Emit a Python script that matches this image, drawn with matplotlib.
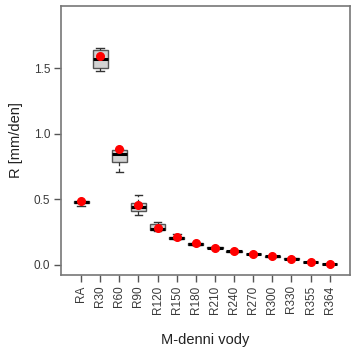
import numpy as np
import matplotlib
matplotlib.use("Agg")
import matplotlib.pyplot as plt

plt.rcParams["font.family"] = ["Liberation Sans", "DejaVu Sans"]

# M-denni vody categories and box statistics [mm/den]
categories = ["RA", "R30", "R60", "R90", "R120", "R150", "R180", "R210",
              "R240", "R270", "R300", "R330", "R355", "R364"]
whis_lo = [0.450, 1.478, 0.708, 0.384, 0.258, 0.195, 0.152, 0.124, 0.098, 0.079, 0.061, 0.043, 0.019, 0.004]
q1 = [0.470, 1.506, 0.784, 0.415, 0.267, 0.200, 0.156, 0.127, 0.101, 0.081, 0.063, 0.045, 0.021, 0.006]
median = [0.478, 1.573, 0.845, 0.440, 0.277, 0.204, 0.160, 0.130, 0.104, 0.084, 0.066, 0.048, 0.023, 0.008]
q3 = [0.485, 1.641, 0.878, 0.476, 0.313, 0.215, 0.165, 0.134, 0.107, 0.087, 0.069, 0.051, 0.025, 0.010]
whis_hi = [0.490, 1.655, 0.885, 0.534, 0.328, 0.238, 0.170, 0.138, 0.111, 0.090, 0.071, 0.053, 0.027, 0.012]
mean = [0.488, 1.595, 0.884, 0.458, 0.282, 0.211, 0.165, 0.133, 0.106, 0.086, 0.067, 0.049, 0.024, 0.009]

stats = []
for i, name in enumerate(categories):
    stats.append({
        "label": name, "whislo": whis_lo[i], "q1": q1[i], "med": median[i],
        "q3": q3[i], "whishi": whis_hi[i], "fliers": [],
    })

fig = plt.figure(figsize=(3.52, 3.48), dpi=100)
ax = fig.add_axes([0.173, 0.21, 0.821, 0.773])

pos = np.arange(1, len(categories) + 1)
ax.bxp(stats, positions=pos, widths=0.8, patch_artist=True,
       boxprops=dict(facecolor="#d3d3d3", edgecolor="#555555", linewidth=1.0),
       medianprops=dict(color="black", linewidth=2.2),
       whiskerprops=dict(color="#333333", linewidth=0.9, linestyle=(0, (3, 2))),
       capprops=dict(color="#333333", linewidth=1.0), capwidths=0.4)
ax.plot(pos, mean, "o", color="red", markersize=5.5, zorder=5)

ax.set_xlim(-0.06, 15.06)
ax.set_ylim(-0.076, 1.977)
ax.set_yticks([0.0, 0.5, 1.0, 1.5])
ax.set_yticklabels(["0.0", "0.5", "1.0", "1.5"])
ax.set_xticks(pos)
ax.set_xticklabels(categories, rotation=90)
ax.tick_params(axis="both", direction="out", length=5, width=1.0, color="#555555",
               labelsize=8.5, labelcolor="#3a3a3a", pad=2.5)
for sp in ax.spines.values():
    sp.set_color("#777777")
    sp.set_linewidth(1.2)

ax.set_ylabel("R [mm/den]", fontsize=10.5, color="#222222", labelpad=8)
ax.set_xlabel("M-denni vody", fontsize=10.5, color="#222222", labelpad=14)

fig.savefig("out.png", dpi=100)
